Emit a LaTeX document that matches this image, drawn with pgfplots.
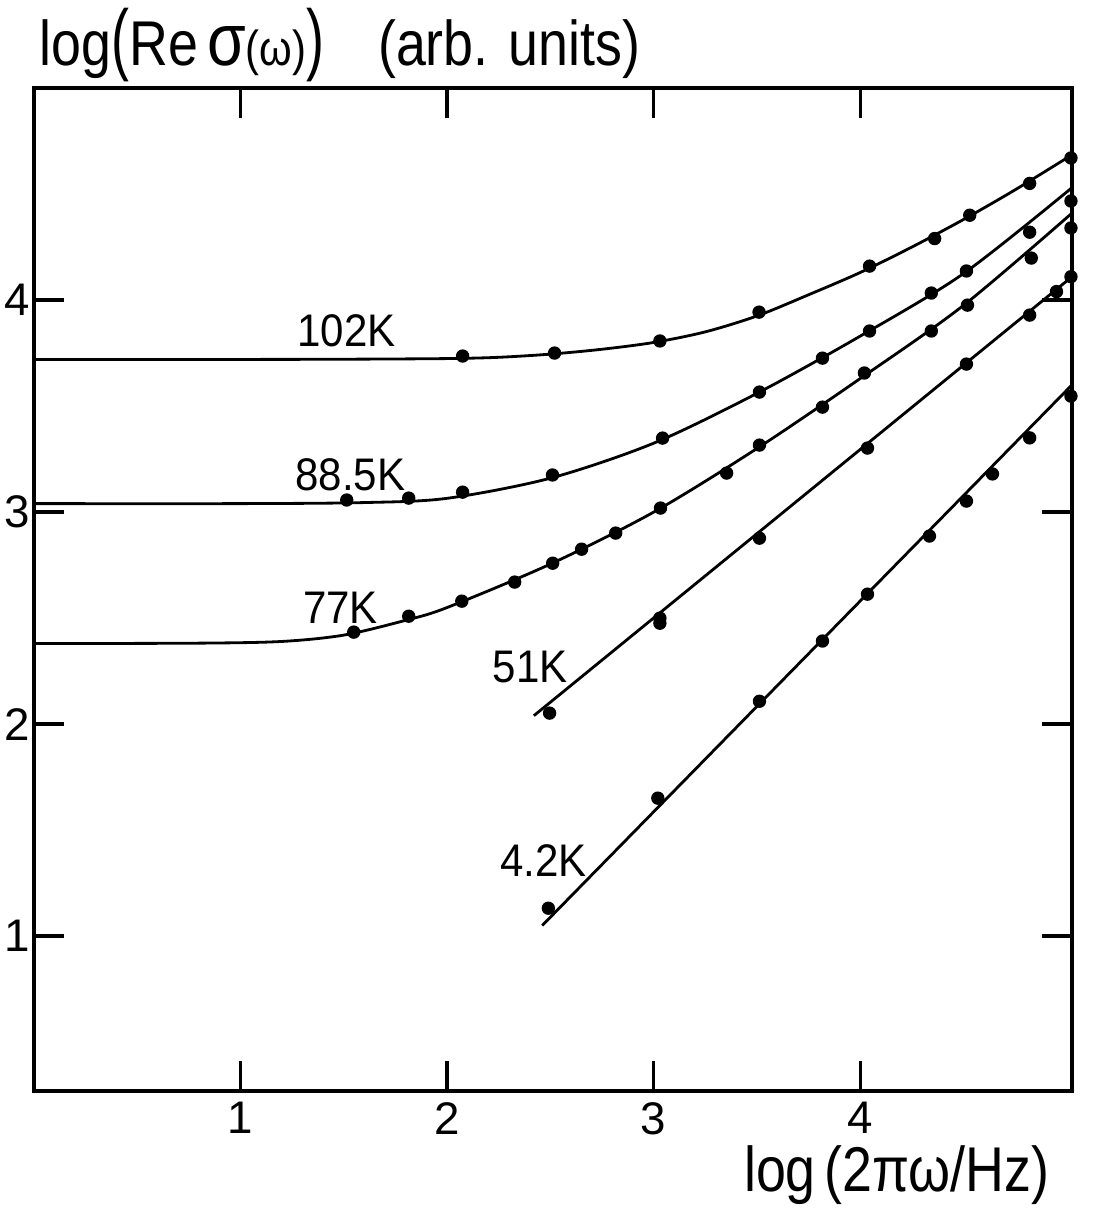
\documentclass[border=0pt]{standalone}
\usepackage{pgfplots}
\pgfplotsset{compat=1.18}
\usepackage{graphicx}
\usepackage{fontspec}
\setmainfont{Liberation Sans}

\newcommand{\biglab}{\fontsize{18}{20}\selectfont}
\newcommand{\tp}[1]{\scalebox{1}[1.25]{#1}}
\newcommand{\curvelab}[1]{\scalebox{0.92}[1]{#1}}

\begin{document}
\begin{tikzpicture}
\begin{axis}[
    scale only axis,
    width=10.38cm, height=10.03cm,
    xmin=0, xmax=5.025,
    ymin=0.27, ymax=5.0,
    xtick={1,2,3,4}, ytick={1,2,3,4},
    tick pos=both, tick align=inside,
    xticklabel pos=lower, yticklabel pos=left,
    major tick length=0.3cm,
    axis line style={line width=1pt},
    tick style={line width=1pt, black},
    ticklabel style={font=\fontsize{13}{15}\selectfont},
    yticklabel style={inner sep=1pt},
    xticklabel style={inner sep=0pt, yshift=-3pt},
    /pgf/number format/assume math mode=true,
    clip=false,
    every axis plot/.append style={black},
]
% 102 K
\addplot[line width=0.8pt, smooth] coordinates {
    (0,3.72) (1.0,3.72) (1.5,3.721) (2.0,3.724) (2.25,3.73) (2.5,3.745)
    (2.75,3.768) (3.0,3.80) (3.25,3.85) (3.5,3.925) (3.75,4.025)
    (4.0,4.13) (4.25,4.25) (4.5,4.38) (4.75,4.52) (5.025,4.685)
};
\addplot[only marks, mark=*, mark size=1.7pt] coordinates {
    (2.075,3.736) (2.52,3.75) (3.03,3.807) (3.51,3.943) (4.045,4.16)
    (4.36,4.29) (4.53,4.40) (4.82,4.55) (5.02,4.67)
};
% 88.5 K
\addplot[line width=0.8pt, smooth] coordinates {
    (0,3.04) (1.0,3.04) (1.6,3.045) (2.0,3.065) (2.5,3.16) (3.0,3.325)
    (3.5,3.56) (4.0,3.83) (4.5,4.125) (5.025,4.53)
};
\addplot[only marks, mark=*, mark size=1.7pt] coordinates {
    (1.514,3.057) (1.814,3.066) (2.075,3.094) (2.51,3.175) (3.043,3.349)
    (3.512,3.566) (3.817,3.726) (4.045,3.854) (4.344,4.033) (4.514,4.137)
    (4.82,4.32) (5.02,4.467)
};
% 77 K
\addplot[line width=0.8pt, smooth] coordinates {
    (0,2.38) (0.8,2.382) (1.2,2.39) (1.5,2.42) (1.8,2.49) (2.0,2.55)
    (2.5,2.755) (3.0,3.0) (3.5,3.3) (4.0,3.63) (4.5,3.975) (5.025,4.41)
};
\addplot[only marks, mark=*, mark size=1.7pt] coordinates {
    (1.548,2.434) (1.814,2.509) (2.071,2.58) (2.327,2.67) (2.511,2.759)
    (2.651,2.825) (2.816,2.901) (3.033,3.019) (3.353,3.184) (3.512,3.316)
    (3.817,3.495) (4.02,3.656) (4.344,3.854) (4.519,3.976) (4.828,4.198)
    (5.02,4.34)
};
% 51 K
\addplot[line width=0.8pt] coordinates {(2.42,2.04) (5.025,4.11)};
\addplot[only marks, mark=*, mark size=1.7pt] coordinates {
    (2.496,2.052) (3.03,2.476) (3.03,2.50) (3.512,2.877) (4.035,3.302)
    (4.514,3.698) (4.82,3.929) (4.95,4.04) (5.02,4.11)
};
% 4.2 K
\addplot[line width=0.8pt] coordinates {(2.46,1.05) (5.025,3.60)};
\addplot[only marks, mark=*, mark size=1.7pt] coordinates {
    (2.49,1.132) (3.02,1.651) (3.512,2.108) (3.817,2.392) (4.035,2.613)
    (4.335,2.887) (4.514,3.052) (4.64,3.18) (4.82,3.35) (5.02,3.547)
};

\node[font=\fontsize{13}{15}\selectfont] at (axis cs:1.513,3.854) {\curvelab{102K}};
\node[font=\fontsize{13}{15}\selectfont] at (axis cs:1.532,3.175) {\curvelab{88.5K}};
\node[font=\fontsize{13}{15}\selectfont] at (axis cs:1.484,2.547) {\curvelab{77K}};
\node[font=\fontsize{13}{15}\selectfont] at (axis cs:2.403,2.269) {\curvelab{51K}};
\node[font=\fontsize{13}{15}\selectfont] at (axis cs:2.466,1.358) {\curvelab{4.2K}};

\node[anchor=base west, inner sep=0pt, font=\biglab]
    at ([yshift=0.22cm]rel axis cs:0.005,1)
    {\scalebox{0.85}[1]{log\tp{(}Re\,{\fontsize{21}{22}\selectfont σ}{\fontsize{14}{15}\selectfont(ω)}\tp{)}\hspace{1.0em}(arb. units)}};
\node[anchor=base east, inner sep=0pt, font=\biglab]
    at ([yshift=-1.0cm]rel axis cs:0.979,0)
    {\scalebox{0.85}[1]{log\,(2πω/Hz)}};
\end{axis}
\pgfresetboundingbox
\path[use as bounding box] ([shift={(-0.34cm,-1.17cm)}]current axis.south west)
    rectangle ++(10.96cm,12.08cm);
\end{tikzpicture}
\end{document}
